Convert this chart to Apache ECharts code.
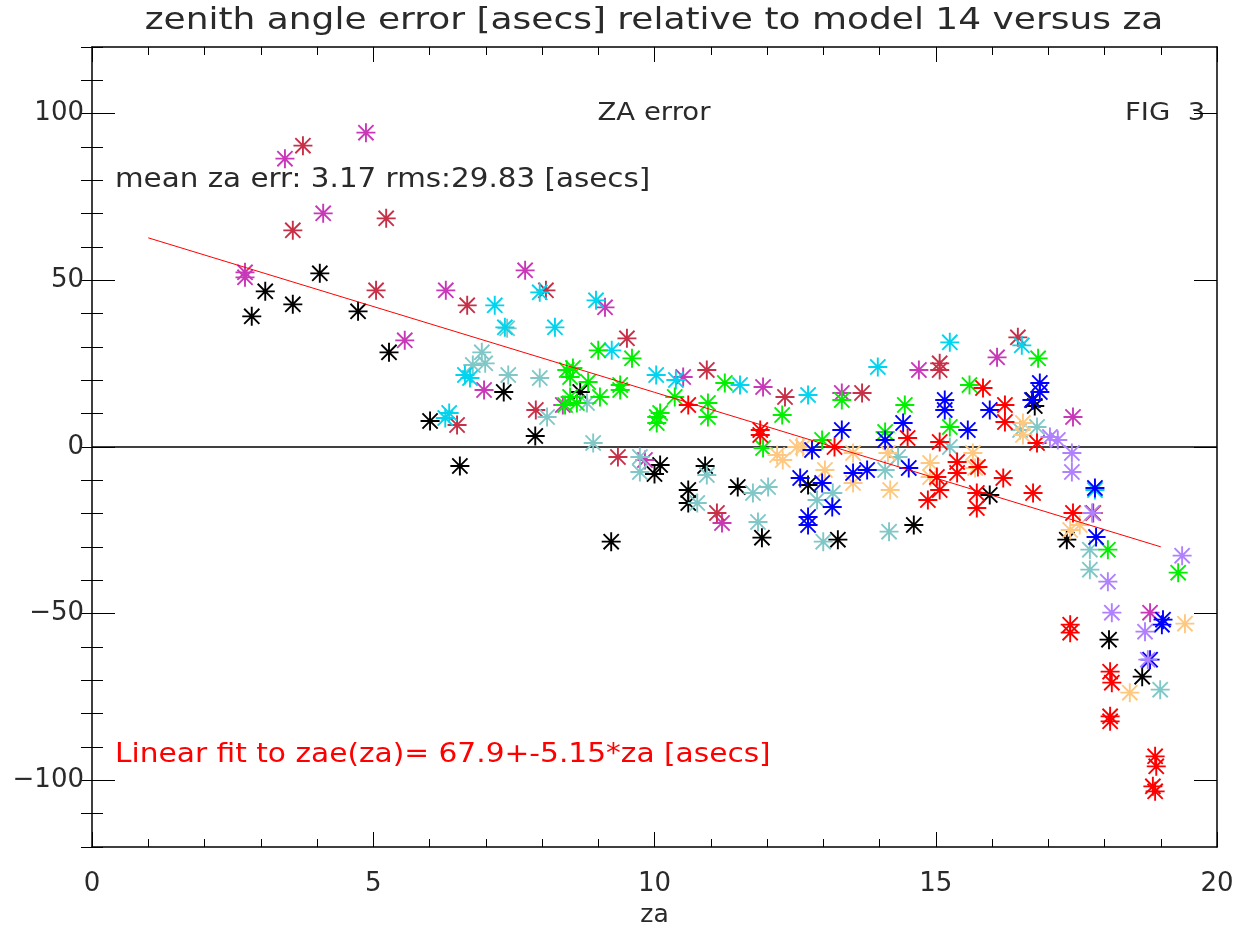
<!DOCTYPE html>
<html>
<head>
<meta charset="utf-8">
<script src="https://cdn.jsdelivr.net/npm/echarts@6/dist/echarts.min.js"></script>
<style>html,body{margin:0;padding:0;background:#fff}#c{width:1241px;height:930px}</style>
</head>
<body>
<div id="c"></div>
<script>
const titleText = 'zenith angle error [asecs] relative to model 14 versus za';
const xTickLabels = ['0','5','10','15','20'];
const yMajorTicks = [-100,-50,0,50,100];
const yTickLabels = ['\u2212100','\u221250','0','50','100'];

const blackPts = [[2.84,39.2],[3.08,46.7],[3.57,42.8],[4.05,52.1],[4.73,40.7],[5.28,28.4],[6.01,7.8],[6.54,-5.7],[7.32,16.5],[7.88,3.3],[8.68,16.5],[9.23,-28.4],[10.0,-8.1],[10.1,-5.4],[10.6,-12.9],[10.6,-16.8],[10.9,-5.7],[11.48,-12.0],[11.91,-27.2],[12.73,-11.4],[13.26,-27.8],[14.61,-23.4],[15.96,-14.4],[16.73,14.1],[16.76,12.3],[17.33,-27.8],[18.08,-57.8],[18.67,-68.9]];
const redPts = [[10.6,12.6],[11.88,5.1],[11.88,3.6],[13.2,0],[14.5,2.7],[15.07,1.5],[15.38,-4.5],[15.38,-7.8],[15.02,-9.0],[14.86,-15.9],[15.07,-12.9],[15.73,-13.8],[15.73,-18.3],[15.75,-6.0],[15.84,17.7],[16.23,12.6],[16.23,7.5],[16.2,-9.3],[16.73,-13.8],[16.8,1.2],[17.44,-19.8],[17.39,-53.3],[17.39,-55.7],[18.1,-67.4],[18.13,-70.7],[18.1,-80.8],[18.1,-82.3],[18.9,-92.8],[18.92,-95.8],[18.86,-101.8],[18.9,-103.3]];
const greenPts = [[9.0,29.0],[9.6,26.6],[8.44,23.1],[8.55,23.7],[8.5,21.0],[8.82,19.5],[9.39,18.6],[9.39,17.1],[9.03,15.0],[8.5,15.0],[8.41,12.6],[8.62,13.2],[10.04,9.0],[10.04,7.2],[10.1,10.2],[10.36,15.0],[10.95,13.2],[10.95,9.0],[11.25,19.2],[12.27,9.6],[11.93,-0.3],[12.98,2.1],[13.33,14.1],[14.1,4.5],[14.45,12.6],[15.25,6.0],[15.6,18.6],[16.82,26.6],[18.06,-30.8],[19.31,-37.7]];
const bluePts = [[13.33,5.1],[12.8,-0.9],[12.59,-9.3],[12.98,-10.8],[13.16,-18.0],[12.73,-21.0],[12.73,-23.4],[13.53,-7.8],[13.78,-6.9],[14.1,2.1],[14.42,7.2],[14.52,-6.3],[15.16,14.1],[15.16,11.1],[15.57,5.1],[15.96,11.1],[16.71,14.1],[16.85,19.2],[16.85,16.5],[17.83,-12.3],[17.85,-27.0],[19.04,-51.8],[19.02,-53.3],[18.81,-63.8]];
const cyanPts = [[6.35,10.2],[6.28,8.7],[6.63,21.6],[6.72,20.7],[7.16,42.5],[7.34,35.9],[7.96,46.4],[8.23,35.9],[8.96,44.0],[9.24,29.0],[10.03,21.6],[10.38,20.1],[11.52,18.6],[12.73,15.6],[13.97,24.0],[15.25,31.4],[16.53,30.5],[17.83,-12.9]];
const tealPts = [[6.93,28.4],[6.77,24.6],[6.99,25.1],[7.38,35.6],[7.4,21.6],[7.96,20.7],[8.09,9.0],[8.8,13.2],[8.91,1.2],[9.74,-3.0],[9.74,-7.5],[10.93,-8.4],[10.76,-16.8],[11.75,-13.8],[12.02,-12.0],[11.84,-22.5],[12.89,-15.9],[13.17,-13.8],[13.0,-28.4],[14.33,-3.0],[14.1,-6.9],[14.17,-25.4],[15.25,0],[16.5,5.1],[16.8,6.0],[17.74,-36.8],[17.74,-30.8],[18.99,-72.8]];
const magentaPts = [[2.72,52.4],[2.72,50.9],[3.43,86.5],[4.11,70.1],[4.87,94.3],[5.56,32.0],[6.29,47.0],[6.97,17.1],[7.7,53.0],[8.37,12.6],[9.12,41.9],[9.83,-3.9],[10.51,21.0],[11.2,-22.8],[11.93,18.0],[13.33,16.2],[14.7,23.1],[16.09,26.9],[17.44,9.0],[18.81,-49.7]];
const crimsonPts = [[3.75,90.4],[3.57,65.0],[5.23,68.6],[5.05,47.0],[6.49,6.6],[6.67,42.5],[7.89,11.1],[8.07,47.0],[9.51,32.6],[9.35,-3.0],[10.93,23.1],[11.11,-19.8],[12.32,15.0],[13.69,16.2],[15.07,23.1],[15.07,25.1],[16.46,32.9],[17.8,-19.8]];
const orangePts = [[12.18,-2.4],[12.28,-3.9],[12.53,0],[12.64,0],[13.03,-6.9],[13.53,-1.8],[13.53,-10.8],[14.15,-1.8],[14.19,-12.9],[14.9,-4.8],[14.9,-9.0],[15.66,-1.8],[15.7,-6.3],[16.55,7.2],[16.55,3.6],[17.39,-24.9],[17.56,-23.4],[18.45,-73.7],[19.43,-53.0]];
const lavenderPts = [[17.03,3.0],[17.17,2.1],[17.42,-1.8],[17.42,-7.5],[17.78,-19.8],[18.06,-40.4],[18.13,-49.7],[18.72,-55.4],[18.77,-63.8],[19.38,-32.6]];
const zeroLine = [[0,0],[20,0]];
const fitLine = [[1,62.75],[19,-29.95]];

const FONT = '"DejaVu Sans", sans-serif';
const TXT = '#2a2a2a';
const STAR = 'path://M10,0L10,20M0,10L20,10M2,2L18,18M2,18L18,2';

function starSeries(data, color) {
  return {
    type: 'scatter', data: data, symbol: STAR, symbolSize: 19,
    itemStyle: { color: 'rgba(0,0,0,0)', borderColor: color, borderWidth: 1.9, opacity: 1 },
    emphasis: { disabled: true }, silent: true, z: 3
  };
}

const chart = echarts.init(document.getElementById('c'), null, { renderer: 'canvas' });
const axisLine = { show: true, onZero: false, lineStyle: { color: '#000', width: 1.5 } };

chart.setOption({
  animation: false,
  backgroundColor: '#fff',
  grid: { left: 92, right: 24, top: 47, bottom: 83, containLabel: false, outerBoundsMode: 'none' },
  xAxis: [
    { type: 'value', position: 'bottom', min: 0, max: 20, interval: 5,
      axisLine: axisLine,
      axisTick: { show: true, inside: true, length: 15, lineStyle: { color: '#000', width: 1 } },
      minorTick: { show: true, splitNumber: 5, length: 8, lineStyle: { color: '#000', width: 1 } },
      splitLine: { show: false }, minorSplitLine: { show: false },
      axisLabel: { fontFamily: FONT, fontSize: 26, color: TXT, margin: 24,
        formatter: function (v) { return xTickLabels[Math.round(v / 5)]; } },
      name: 'za', nameLocation: 'middle', nameGap: 56,
      nameTextStyle: { fontFamily: FONT, fontSize: 25, color: TXT } },
    { type: 'value', position: 'top', min: 0, max: 20, interval: 5,
      axisLine: axisLine,
      axisTick: { show: true, inside: true, length: 15, lineStyle: { color: '#000', width: 1 } },
      minorTick: { show: true, splitNumber: 5, length: 8, lineStyle: { color: '#000', width: 1 } },
      splitLine: { show: false }, axisLabel: { show: false } }
  ],
  yAxis: [
    { type: 'value', position: 'left', min: -120, max: 120,
      axisLine: axisLine,
      axisTick: { show: true, inside: true, length: 23, customValues: yMajorTicks, lineStyle: { color: '#000', width: 1 } },
      splitLine: { show: false },
      axisLabel: { customValues: yMajorTicks, fontFamily: FONT, fontSize: 26, color: TXT, margin: 8,
        formatter: function (v) { return yTickLabels[yMajorTicks.indexOf(Math.round(v))]; } } },
    { type: 'value', position: 'left', min: -120, max: 120, interval: 10,
      axisLine: { show: false },
      axisTick: { show: true, inside: true, length: 11, lineStyle: { color: '#000', width: 1 } },
      splitLine: { show: false }, axisLabel: { show: false } },
    { type: 'value', position: 'right', min: -120, max: 120,
      axisLine: axisLine,
      axisTick: { show: true, inside: true, length: 23, customValues: yMajorTicks, lineStyle: { color: '#000', width: 1 } },
      splitLine: { show: false }, axisLabel: { show: false } },
    { type: 'value', position: 'right', min: -120, max: 120, interval: 10,
      axisLine: { show: false },
      axisTick: { show: true, inside: true, length: 11, lineStyle: { color: '#000', width: 1 } },
      splitLine: { show: false }, axisLabel: { show: false } }
  ],
  series: [
    { type: 'line', data: zeroLine, symbol: 'none', lineStyle: { color: '#000', width: 1.3 }, silent: true, z: 2 },
    starSeries(blackPts, '#000000'),
    starSeries(magentaPts, '#c838b8'),
    starSeries(crimsonPts, '#c83048'),
    starSeries(tealPts, '#80c8c8'),
    starSeries(cyanPts, '#00d4ee'),
    starSeries(greenPts, '#00f000'),
    starSeries(orangePts, '#ffc880'),
    starSeries(bluePts, '#0000ff'),
    starSeries(redPts, '#ff0000'),
    starSeries(lavenderPts, '#b080ff'),
    { type: 'line', data: fitLine, symbol: 'none', lineStyle: { color: '#ff0000', width: 1 }, silent: true, z: 4 }
  ],
  graphic: [
    { type: 'text', x: 654, y: 21, scaleX: 1.16, style: { text: titleText, font: '31px ' + FONT, fill: TXT, align: 'center', verticalAlign: 'middle' } },
    { type: 'text', x: 654, y: 113, scaleX: 1.1, style: { text: 'ZA error', font: '25px ' + FONT, fill: TXT, align: 'center', verticalAlign: 'middle' } },
    { type: 'text', x: 1125, y: 113, scaleX: 1.1, style: { text: 'FIG  3', font: '25px ' + FONT, fill: TXT, align: 'left', verticalAlign: 'middle' } },
    { type: 'text', x: 115, y: 180, scaleX: 1.13, style: { text: 'mean za err: 3.17 rms:29.83 [asecs]', font: '26px ' + FONT, fill: TXT, align: 'left', verticalAlign: 'middle' } },
    { type: 'text', x: 115, y: 755, scaleX: 1.14, style: { text: 'Linear fit to zae(za)= 67.9+-5.15*za [asecs]', font: '26px ' + FONT, fill: '#ff0000', align: 'left', verticalAlign: 'middle' } }
  ]
});
</script>
</body>
</html>
